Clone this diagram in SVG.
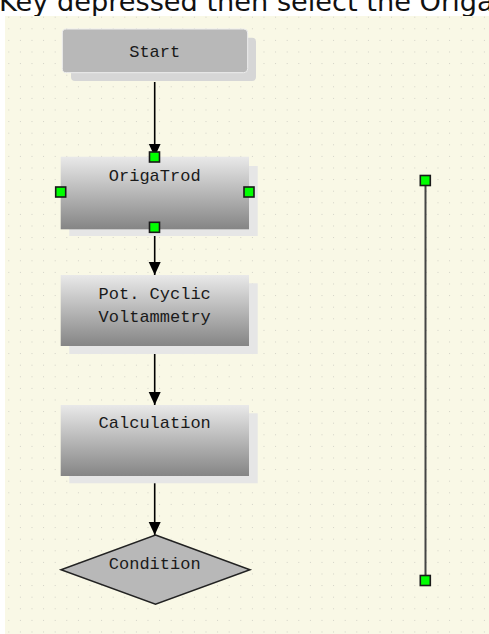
<svg xmlns="http://www.w3.org/2000/svg" width="489" height="634" viewBox="0 0 489 634">
<style>
.lbl{font-family:"Liberation Mono","DejaVu Sans Mono",monospace;font-size:17px;fill:#1a1a1a;text-anchor:middle}
.conn{stroke:#000;stroke-width:1.6;fill:none}
.shadow{fill:#e6e6e6}
.box{fill:url(#g)}
.handle{fill:#00ff00;stroke:#1a1a1a;stroke-width:1.6}
</style>
<defs>
<linearGradient id="g" x1="0" y1="0" x2="0" y2="1">
<stop offset="0" stop-color="#e9e9e9"/>
<stop offset="1" stop-color="#858585"/>
</linearGradient>
<pattern id="dots" x="8.3" y="16.7" width="11.6" height="11.6" patternUnits="userSpaceOnUse">
<rect x="-0.7" y="-0.7" width="1.5" height="1.5" fill="#bdbdb6"/>
</pattern>
<marker id="arr" markerUnits="userSpaceOnUse" markerWidth="14" markerHeight="14" refX="13" refY="6" orient="auto">
<path d="M0,0 L13,6 L0,12 Z" fill="#000"/>
</marker>
</defs>
<rect width="489" height="634" fill="#ffffff"/>
<text x="-1" y="10.5" font-family="DejaVu Sans,Verdana,sans-serif" font-size="27.2" fill="#111">Key depressed then select the Origa</text>
<rect x="5" y="16" width="484" height="618" fill="#f9f8e6"/>
<rect x="5" y="16" width="484" height="618" fill="url(#dots)"/>

<g id="connectors">
<line class="conn" x1="154.7" y1="82" x2="154.7" y2="156.7" marker-end="url(#arr)"/>
<line class="conn" x1="154.7" y1="236" x2="154.7" y2="275" marker-end="url(#arr)"/>
<line class="conn" x1="154.7" y1="354" x2="154.7" y2="405" marker-end="url(#arr)"/>
<line class="conn" x1="154.7" y1="483" x2="154.7" y2="535" marker-end="url(#arr)"/>
<line x1="425.5" y1="180.5" x2="425.5" y2="580.5" stroke="#444" stroke-width="2"/>
</g>

<g id="start">
<rect x="71" y="37.7" width="185" height="43.3" rx="4" fill="#d6d6d6"/>
<rect x="62.3" y="29" width="185.4" height="43.7" rx="4" fill="#b8b8b8" stroke="#efefef" stroke-width="1"/>
<text class="lbl" x="154.7" y="56.5">Start</text>
</g>

<g id="origatrod">
<rect class="shadow" x="69.3" y="166" width="188.4" height="70"/>
<rect class="box" x="60.7" y="156.7" width="188.3" height="72.6"/>
<text class="lbl" x="154.7" y="180.5">OrigaTrod</text>
<rect class="handle" x="149.5" y="152" width="10" height="10"/>
<rect class="handle" x="55.7" y="187" width="10" height="10"/>
<rect class="handle" x="244" y="187" width="10" height="10"/>
<rect class="handle" x="149.5" y="222.3" width="10" height="10"/>
</g>

<g id="pot-cv">
<rect class="shadow" x="69.3" y="283.3" width="188.4" height="70.7"/>
<rect class="box" x="60.7" y="275" width="188.3" height="71"/>
<text class="lbl" x="154.7" y="298.5">Pot. Cyclic</text>
<text class="lbl" x="154.7" y="321.5">Voltammetry</text>
</g>

<g id="calculation">
<rect class="shadow" x="69.3" y="413.3" width="188.4" height="70"/>
<rect class="box" x="60.7" y="405" width="188.3" height="71"/>
<text class="lbl" x="154.7" y="427.5">Calculation</text>
</g>

<g id="condition">
<polygon points="155.5,535 250,569.7 155.5,604.3 61,569.7" fill="#b8b8b8" stroke="#222" stroke-width="1.5"/>
<text class="lbl" x="154.7" y="569">Condition</text>
</g>

<g id="line-handles">
<rect class="handle" x="420.3" y="175.5" width="10" height="10"/>
<rect class="handle" x="420.3" y="575.5" width="10" height="10"/>
</g>
</svg>
